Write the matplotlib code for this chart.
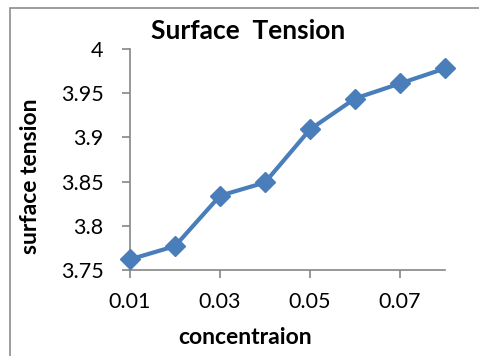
import numpy as np
import matplotlib.pyplot as plt
from matplotlib.patches import Rectangle

# data
conc = [0.01, 0.02, 0.03, 0.04, 0.05, 0.06, 0.07, 0.08]
tension = [3.762, 3.777, 3.834, 3.849, 3.909, 3.944, 3.961, 3.978]
xtick_vals = [0.01, 0.03, 0.05, 0.07]
ytick_vals = [3.75, 3.8, 3.85, 3.9, 3.95, 4.0]
ytick_labels = ['3.75', '3.8', '3.85', '3.9', '3.95', '4']

plt.rcParams['font.family'] = ['Lato', 'DejaVu Sans']

fig = plt.figure(figsize=(4.79, 3.56), dpi=100)
W, H = 479.0, 356.0
# outer chart frame (left/top edges visible)
fig.patches.append(Rectangle((9.5 / W, -0.1), 1.2, (356 - 7.5) / H + 0.1,
                             transform=fig.transFigure, fill=False,
                             edgecolor='#8c8c8c', linewidth=1.2))

ax = fig.add_axes([130 / W, (H - 270) / H, (445 - 130) / W, (270 - 49) / H])
ax.plot(conc, tension, color='#4a7ebb', linewidth=3, marker='D',
        markersize=10, markeredgecolor='#4a7ebb', clip_on=False, zorder=3)

ax.set_xlim(0.01, 0.08)
ax.set_ylim(3.75, 4.0)
ax.set_xticks(xtick_vals)
ax.set_xticklabels(['0.01', '0.03', '0.05', '0.07'])
ax.set_yticks(ytick_vals)
ax.set_yticklabels(ytick_labels)

for s in ['top', 'right']:
    ax.spines[s].set_visible(False)
for s in ['left', 'bottom']:
    ax.spines[s].set_color('#868686')
    ax.spines[s].set_linewidth(1.2)
ax.tick_params(axis='both', direction='out', length=6, width=1.2,
               color='#868686', labelsize=15.5, labelcolor='black')
ax.tick_params(axis='y', pad=13)
ax.tick_params(axis='x', pad=10)

fig.text(248 / W, 1 - 31 / H, 'Surface  Tension', ha='center', va='center',
         fontsize=19, fontweight='bold')
fig.text(245 / W, 1 - 338 / H, 'concentraion', ha='center', va='center',
         fontsize=16.5, fontweight='bold')
fig.text(31 / W, 1 - 176 / H, 'surface tension', ha='center', va='center',
         fontsize=16.5, fontweight='bold', rotation=90)

fig.savefig('out.png', dpi=100)
